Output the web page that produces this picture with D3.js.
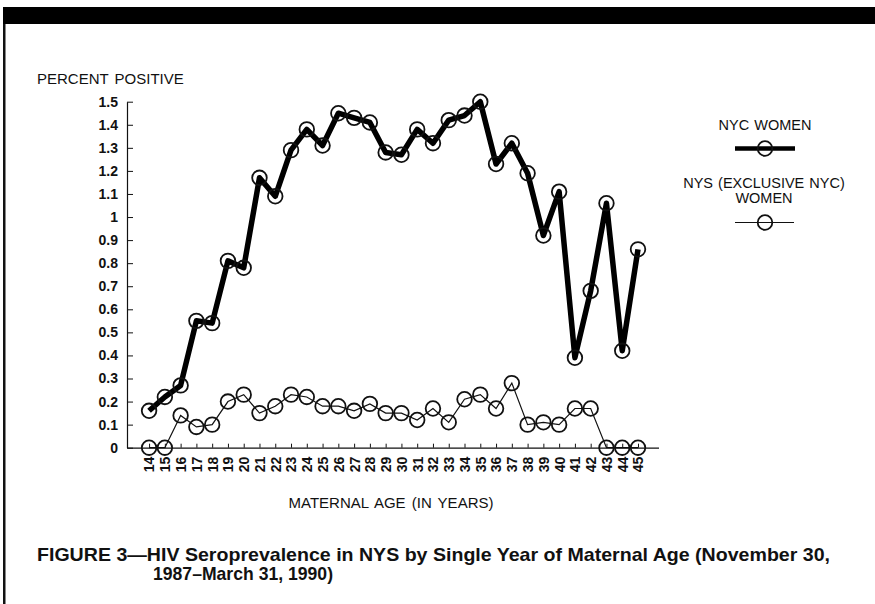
<!DOCTYPE html>
<html>
<head>
<meta charset="utf-8">
<script src="https://cdn.jsdelivr.net/npm/d3@7"></script>
<style>
  body { margin: 0; background: #fff; }
  svg { display: block; }
  .lbl { font-family: "Liberation Sans", Arial, sans-serif; font-size: 15px; fill: #111; word-spacing: 2px; }
  .tick text { font-family: "Liberation Sans", Arial, sans-serif; font-size: 14px; font-weight: bold; fill: #111; }
  .leg { font-family: "Liberation Sans", Arial, sans-serif; font-size: 14.5px; fill: #111; word-spacing: 1px; }
  .cap { font-family: "Liberation Sans Narrow", "Arial Narrow", "Liberation Sans", sans-serif; font-weight: bold; font-size: 19px; fill: #111; }
</style>
</head>
<body>
<svg id="chart" width="875" height="604"></svg>
<script>
(function () {
    // maternal age, one point per year
    var ages = [14, 15, 16, 17, 18, 19, 20, 21, 22, 23, 24, 25, 26, 27, 28, 29,
                30, 31, 32, 33, 34, 35, 36, 37, 38, 39, 40, 41, 42, 43, 44, 45];

    // NYC women, percent positive
    var nycWomen = [0.16, 0.22, 0.27, 0.55, 0.54, 0.81, 0.78, 1.17, 1.09, 1.29, 1.38, 1.31, 1.45, 1.43, 1.41, 1.28,
                    1.27, 1.38, 1.32, 1.42, 1.44, 1.50, 1.23, 1.32, 1.19, 0.92, 1.11, 0.39, 0.68, 1.06, 0.42, 0.86];

    // NYS (exclusive NYC) women, percent positive
    var nysWomen = [0, 0, 0.14, 0.09, 0.10, 0.20, 0.23, 0.15, 0.18, 0.23, 0.22, 0.18, 0.18, 0.16, 0.19, 0.15,
                    0.15, 0.12, 0.17, 0.11, 0.21, 0.23, 0.17, 0.28, 0.10, 0.11, 0.10, 0.17, 0.17, 0, 0, 0];

    var yTicks = [0, 0.1, 0.2, 0.3, 0.4, 0.5, 0.6, 0.7, 0.8, 0.9, 1, 1.1, 1.2, 1.3, 1.4, 1.5];
    var yTickLabels = ["0", "0.1", "0.2", "0.3", "0.4", "0.5", "0.6", "0.7", "0.8", "0.9",
                       "1", "1.1", "1.2", "1.3", "1.4", "1.5"];

    var svg = d3.select("#chart");

    // page frame: black band on top, rule down the left side
    svg.append("rect").attr("x", 3).attr("y", 7).attr("width", 872).attr("height", 17).attr("fill", "#000");
    svg.append("rect").attr("x", 3).attr("y", 24).attr("width", 2.5).attr("height", 580).attr("fill", "#111");

    var x = d3.scaleLinear().domain([12.6, 46.3]).range([127, 658.5]);
    var y = d3.scaleLinear().domain([0, 1.5]).range([447.7, 101.7]);

    // x axis, ticks pointing up, labels rotated
    var xAxis = svg.append("g")
        .attr("transform", "translate(0," + y(0) + ")")
        .call(d3.axisBottom(x).tickValues(ages).tickSizeInner(-4).tickSizeOuter(0));
    xAxis.select(".domain").attr("stroke", "#111").attr("stroke-width", 1.2);
    xAxis.selectAll(".tick line").attr("stroke", "#111");
    xAxis.selectAll("text")
        .attr("transform", "rotate(-90)")
        .attr("text-anchor", "end")
        .attr("x", -9)
        .attr("y", 0)
        .attr("dy", "0.35em");

    // y axis, ticks pointing right
    var yAxis = svg.append("g")
        .attr("transform", "translate(" + x(12.6) + ",0)")
        .call(d3.axisLeft(y).tickValues(yTicks)
            .tickFormat(function (d, i) { return yTickLabels[i]; })
            .tickSizeInner(-6).tickSizeOuter(0).tickPadding(9));
    yAxis.select(".domain").attr("stroke", "#111").attr("stroke-width", 1.2);
    yAxis.selectAll(".tick line").attr("stroke", "#111");

    // strip default axis font so the css applies
    svg.selectAll("g").attr("font-family", null).attr("font-size", null);

    var line = d3.line()
        .x(function (d, i) { return x(ages[i]); })
        .y(function (d) { return y(d); });

    // NYS (exclusive NYC) women, thin line
    svg.append("path").datum(nysWomen)
        .attr("d", line).attr("fill", "none").attr("stroke", "#111").attr("stroke-width", 1.2);
    svg.append("g").selectAll("circle").data(nysWomen).join("circle")
        .attr("cx", function (d, i) { return x(ages[i]); })
        .attr("cy", function (d) { return y(d); })
        .attr("r", 7.3).attr("fill", "none").attr("stroke", "#111").attr("stroke-width", 1.8);

    // NYC women, heavy line
    svg.append("path").datum(nycWomen)
        .attr("d", line).attr("fill", "none").attr("stroke", "#000")
        .attr("stroke-width", 5.5).attr("stroke-linejoin", "round");
    svg.append("g").selectAll("circle").data(nycWomen).join("circle")
        .attr("cx", function (d, i) { return x(ages[i]); })
        .attr("cy", function (d) { return y(d); })
        .attr("r", 7.3).attr("fill", "none").attr("stroke", "#111").attr("stroke-width", 1.8);

    // axis titles
    svg.append("text").attr("class", "lbl").attr("x", 37).attr("y", 84).text("PERCENT POSITIVE");
    svg.append("text").attr("class", "lbl").attr("x", 391).attr("y", 508)
        .attr("text-anchor", "middle").text("MATERNAL AGE (IN YEARS)");

    // legend
    var legend = svg.append("g");
    legend.append("text").attr("class", "leg").attr("x", 765).attr("y", 130)
        .attr("text-anchor", "middle").text("NYC WOMEN");
    legend.append("line").attr("x1", 735).attr("x2", 795).attr("y1", 148.5).attr("y2", 148.5)
        .attr("stroke", "#000").attr("stroke-width", 4.5);
    legend.append("circle").attr("cx", 765).attr("cy", 148.5).attr("r", 7.3)
        .attr("fill", "none").attr("stroke", "#111").attr("stroke-width", 1.8);
    legend.append("text").attr("class", "leg").attr("x", 764).attr("y", 187.5)
        .attr("text-anchor", "middle").text("NYS (EXCLUSIVE NYC)");
    legend.append("text").attr("class", "leg").attr("x", 764).attr("y", 203)
        .attr("text-anchor", "middle").text("WOMEN");
    legend.append("line").attr("x1", 735).attr("x2", 794).attr("y1", 222.5).attr("y2", 222.5)
        .attr("stroke", "#111").attr("stroke-width", 1.2);
    legend.append("circle").attr("cx", 765).attr("cy", 222.5).attr("r", 7.3)
        .attr("fill", "none").attr("stroke", "#111").attr("stroke-width", 1.8);

    // figure caption
    svg.append("text").attr("class", "cap").attr("x", 37).attr("y", 561)
        .attr("textLength", 793).attr("lengthAdjust", "spacingAndGlyphs")
        .text("FIGURE 3\u2014HIV Seroprevalence in NYS by Single Year of Maternal Age (November 30,");
    svg.append("text").attr("class", "cap").attr("x", 153).attr("y", 580)
        .attr("textLength", 180).attr("lengthAdjust", "spacingAndGlyphs")
        .text("1987\u2013March 31, 1990)");
})();
</script>
</body>
</html>
